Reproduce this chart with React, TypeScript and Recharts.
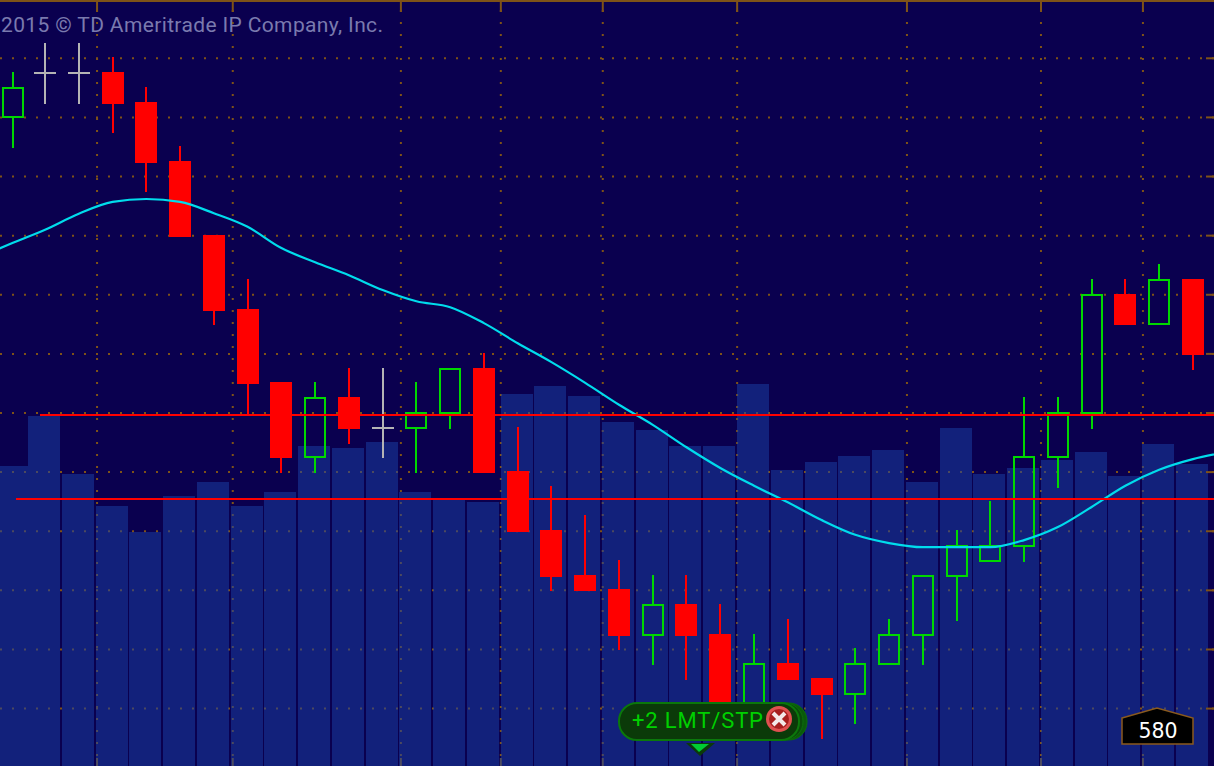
import React from "react";
import {
  ComposedChart,
  Bar,
  Line,
  XAxis,
  YAxis,
  CartesianGrid,
  ReferenceLine,
} from "recharts";

const W = 1214;
const H = 766;
const BG = "#0A004F";
const BROWN = "#7F5217";
const GREEN = "#00D800";
const RED = "#FF0000";
const GREY = "#B4B4B4";

const slots = [0.05, 1, 2, 3, 4, 5, 6, 7, 8, 9, 10, 11, 12, 13, 14, 15, 16, 17, 18, 19, 20, 21, 22, 23, 24, 25, 26, 27, 28, 29, 30, 31, 32, 33, 34, 35];
const opens = [2055, 2055.75, 2055.75, 2055.75, 2055.25, 2054.25, 2053, 2051.75, 2050.5, 2049.25, 2050.25, 2049.75, 2049.75, 2050, 2050.75, 2049, 2048, 2047.25, 2047, 2046.25, 2046.75, 2046.25, 2045, 2045.75, 2045.5, 2045.25, 2045.75, 2046.25, 2047.25, 2047.5, 2047.75, 2049.25, 2050, 2052, 2051.5, 2052.25];
const closes = [2055.5, 2055.75, 2055.75, 2055.25, 2054.25, 2053, 2051.75, 2050.5, 2049.25, 2050.25, 2049.75, 2049.75, 2050, 2050.75, 2049, 2048, 2047.25, 2047, 2046.25, 2046.75, 2046.25, 2045, 2045.75, 2045.5, 2045.25, 2045.75, 2046.25, 2047.25, 2047.75, 2047.75, 2049.25, 2050, 2052, 2051.5, 2052.25, 2051];
const highs = [2055.75, 2056.25, 2056.25, 2056, 2055.5, 2054.5, 2053, 2052.25, 2050.5, 2050.5, 2050.75, 2050.75, 2050.5, 2050.75, 2051, 2049.75, 2048.75, 2048.25, 2047.5, 2047.25, 2047.25, 2046.75, 2046.25, 2046.5, 2045.5, 2046, 2046.5, 2047.25, 2048, 2048.5, 2050.25, 2050.25, 2052.25, 2052.25, 2052.5, 2052.25];
const lows = [2054.5, 2055.25, 2055.25, 2054.75, 2053.75, 2053, 2051.5, 2050, 2049, 2049, 2049.5, 2049.25, 2049, 2049.75, 2049, 2048, 2047, 2047, 2046, 2045.75, 2045.5, 2045, 2045, 2045.5, 2044.5, 2044.75, 2045.75, 2045.75, 2046.5, 2047.5, 2047.5, 2048.75, 2049.75, 2051.5, 2051.5, 2050.75];
const volumes = [3000, 3500, 2920, 2600, 2340, 2700, 2840, 2600, 2740, 3200, 3180, 3240, 2740, 2660, 2640, 3720, 3800, 3700, 3440, 3360, 3200, 3200, 3820, 2960, 3040, 3100, 3160, 2840, 3380, 2920, 2980, 3060, 3140, 2900, 3220, 3020];
const movingAverage = [2052.62, 2052.88, 2053.1, 2053.37, 2053.57, 2053.62, 2053.57, 2053.38, 2053.15, 2052.79, 2052.55, 2052.33, 2052.08, 2051.89, 2051.79, 2051.52, 2051.18, 2050.86, 2050.51, 2050.14, 2049.8, 2049.42, 2049.07, 2048.77, 2048.49, 2048.19, 2047.94, 2047.8, 2047.73, 2047.73, 2047.73, 2047.85, 2048.07, 2048.41, 2048.77, 2049.04, 2049.22, 2049.34];
const priceGrid = [2045, 2046, 2047, 2048, 2049, 2050, 2051, 2052, 2053, 2054, 2055, 2056];
const timeGrid = [2.54, 6.56, 11.54, 14.5, 17.52, 21.5, 26.53, 30.5, 33.52];
const xDomain = [-0.3347, 35.625];
const priceDomain = [2044.029, 2056.986];
const upperLevel = 2049.97;
const lowerLevel = 2048.55;

const chartData = movingAverage.map((ma, n) => {
  const i = n - 1;
  const inRange = i >= 0 && i < opens.length;
  return {
    idx: inRange ? slots[i] : i,
    ma,
    volume: inRange ? volumes[i] : null,
    range: inRange ? [lows[i], highs[i]] : null,
    open: inRange ? opens[i] : null,
    close: inRange ? closes[i] : null,
    high: inRange ? highs[i] : null,
    low: inRange ? lows[i] : null,
  };
});

function Candle(props: any) {
  const { x, y, width, height, payload } = props;
  if (!payload || payload.open == null || !height) return null;
  const { open, close, high, low } = payload;
  const ppp = height / (high - low);
  const cx = Math.round(x + width / 2);
  const py = (p: number) => y + (high - p) * ppp;
  const top = py(Math.max(open, close));
  const bottom = py(Math.min(open, close));
  const color = open === close ? GREY : close > open ? GREEN : RED;
  const crisp = { shapeRendering: "crispEdges" as const };
  if (open === close) {
    return (
      <g>
        <rect x={cx - 1} y={y - 1} width={2} height={height + 2} fill={color} {...crisp} />
        <rect x={cx - 11} y={top - 1} width={22} height={2} fill={color} {...crisp} />
      </g>
    );
  }
  return (
    <g>
      {high > Math.max(open, close) && <rect x={cx - 1} y={y - 1} width={2} height={top - y} fill={color} {...crisp} />}
      {low < Math.min(open, close) && <rect x={cx - 1} y={bottom} width={2} height={y + height - bottom + 1} fill={color} {...crisp} />}
      {close > open ? (
        <rect x={cx - 10} y={top} width={20} height={bottom - top} fill="none" stroke={color} strokeWidth={2} {...crisp} />
      ) : (
        <rect x={cx - 11} y={top - 1} width={22} height={bottom - top + 2} fill={color} {...crisp} />
      )}
    </g>
  );
}

function VolumeBar(props: any) {
  const { x, y, width, height } = props;
  if (!height) return null;
  return <rect x={Math.round(x) - 1} y={y} width={width} height={height} fill="#1942A7" fillOpacity={0.5} shapeRendering="crispEdges" />;
}

function EmptyTick() {
  return <g />;
}

function Overlay() {
  return (
    <svg width={W} height={H} style={{ position: "absolute", left: 0, top: 0, pointerEvents: "none" }}>
      <text x={1} y={32} fill="#7A7AAE" fontFamily="Roboto" fontSize={21} textLength={382} lengthAdjust="spacing">
        2015 © TD Ameritrade IP Company, Inc.
      </text>
      <polygon points="1122,718 1157,708 1193,718 1193,744 1122,744" fill="#000" stroke="#8A5A1E" strokeWidth={1.5} />
      <text x={1158} y={738} fill="#fff" textAnchor="middle" fontFamily="'DejaVu Sans'" fontSize={20.5}>
        580
      </text>
      <rect x={630} y={703} width={177} height={37} rx={18} fill="#0A5A0A" stroke="#0B6E0B" />
      <rect x={626} y={703} width={177} height={37} rx={18} fill="#0A4A0A" stroke="#0B6E0B" />
      <rect x={619} y={703} width={180} height={37} rx={18} fill="#0B3A09" stroke="#0B780B" strokeWidth={2} />
      <text x={632} y={728} fill="#00D000" fontFamily="Roboto" fontSize={22} textLength={131} lengthAdjust="spacing">
        +2 LMT/STP
      </text>
      <circle cx={779} cy={719} r={13} fill="#E05050" />
      <circle cx={779} cy={719} r={10} fill="#A81E1E" />
      <path d="M773 713 L785 725 M785 713 L773 725" stroke="#F4E8E8" strokeWidth={4} />
      <polygon points="686,743 715,743 700,756" fill="#0B3A09" />
      <polygon points="691,744 709,744 699,752" fill="#00CC33" />
    </svg>
  );
}

export default function App() {
  return (
    <div style={{ position: "fixed", left: 0, top: 0, width: W, height: H, background: BG, overflow: "hidden" }}>
      <ComposedChart width={W} height={H} data={chartData} margin={{ top: 0, right: 0, bottom: 0, left: 0 }} barGap={-32} style={{ position: "absolute", left: 0, top: 0 }}>
        <XAxis xAxisId="t" dataKey="idx" type="number" orientation="top" mirror height={30} domain={xDomain} allowDataOverflow ticks={timeGrid} interval={0} tick={EmptyTick} tickSize={12} tickLine={{ stroke: BROWN, strokeWidth: 2 }} axisLine={{ stroke: BROWN, strokeWidth: 4 }} />
        <XAxis xAxisId="b" dataKey="idx" type="number" orientation="bottom" mirror height={30} domain={xDomain} allowDataOverflow ticks={timeGrid} interval={0} tick={EmptyTick} tickSize={8} tickLine={{ stroke: "#4D4C60", strokeWidth: 2 }} axisLine={false} />
        <YAxis yAxisId="p" orientation="right" mirror width={30} domain={priceDomain} allowDataOverflow ticks={priceGrid} interval={0} tick={EmptyTick} tickSize={8} tickLine={{ stroke: BROWN, strokeWidth: 2 }} axisLine={false} />
        <YAxis yAxisId="v" hide domain={[0, 7660]} allowDataOverflow />
        <CartesianGrid xAxisId="t" yAxisId="p" horizontal vertical={false} stroke={BROWN} strokeWidth={2} strokeDasharray="2 10" syncWithTicks />
        <CartesianGrid xAxisId="t" yAxisId="p" vertical horizontal={false} stroke={BROWN} strokeWidth={2} strokeDasharray="2 10" strokeDashoffset={2} syncWithTicks />
        <Bar xAxisId="t" yAxisId="v" dataKey="volume" barSize={32} shape={VolumeBar} isAnimationActive={false} />
        <Bar xAxisId="t" yAxisId="p" dataKey="range" barSize={32} shape={Candle} isAnimationActive={false} />
        <Line xAxisId="t" yAxisId="p" dataKey="ma" type="monotone" stroke="#00DCEC" strokeWidth={2.2} dot={false} activeDot={false} isAnimationActive={false} />
        <ReferenceLine xAxisId="t" yAxisId="p" segment={[{ x: 0.85, y: upperLevel }, { x: xDomain[1], y: upperLevel }]} stroke={RED} strokeWidth={2} shapeRendering="crispEdges" />
        <ReferenceLine xAxisId="t" yAxisId="p" segment={[{ x: 0.14, y: lowerLevel }, { x: xDomain[1], y: lowerLevel }]} stroke={RED} strokeWidth={2} shapeRendering="crispEdges" />
      </ComposedChart>
      <Overlay />
    </div>
  );
}
